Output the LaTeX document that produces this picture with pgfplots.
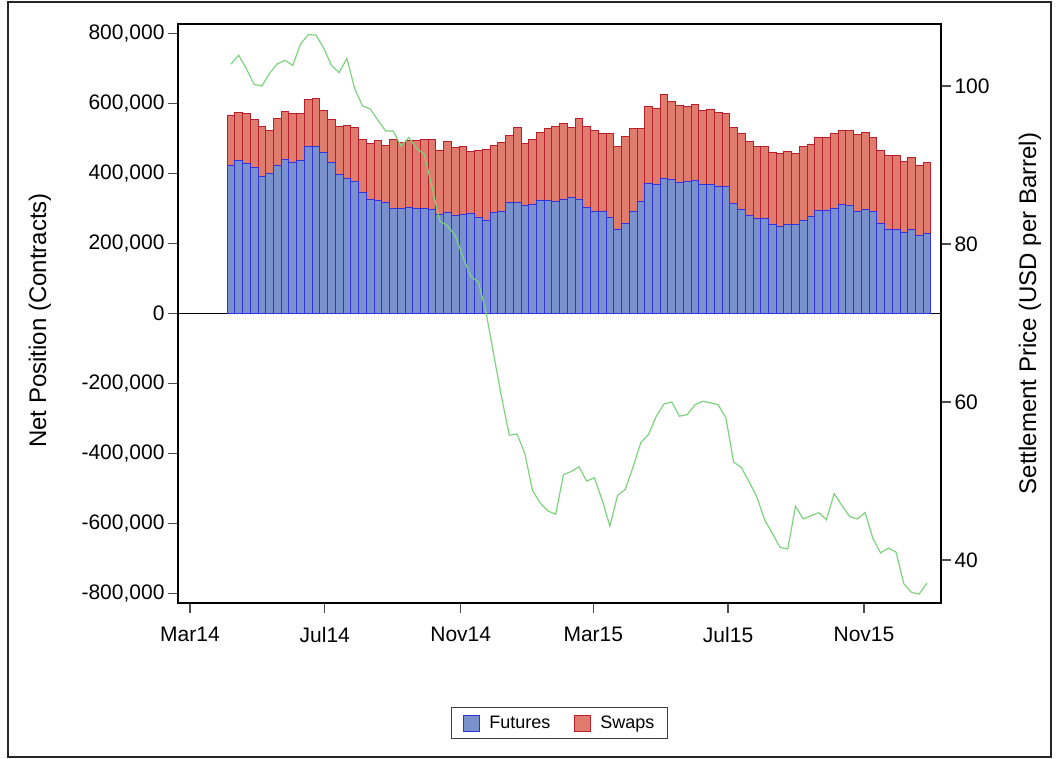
\documentclass[border=0pt]{standalone}
\usepackage{fontspec}
\setmainfont{Liberation Sans}
\usepackage{pgfplots}
\pgfplotsset{compat=1.18}
\usepackage{pgfplotstable}

\definecolor{futfill}{RGB}{121,146,206}
\definecolor{futedge}{RGB}{50,50,225}
\definecolor{swfill}{RGB}{224,124,110}
\definecolor{swedge}{RGB}{185,30,45}
\definecolor{pricegreen}{RGB}{125,212,125}

\pgfplotstableread{
x fut swap price
37 425000 143000 102.75
44 439000 137000 103.90
51 429000 143000 102.20
58 418000 138000 100.20
65 391000 144000 100.00
72 401000 123000 101.60
79 425000 133000 102.80
86 442000 136000 103.25
93 433000 139000 102.60
100 437000 136000 105.30
107 477000 136000 106.50
114 478000 138000 106.45
121 462000 118000 104.80
128 433000 123000 102.60
135 398000 137000 101.70
142 388000 150000 103.50
149 377000 154000 99.70
156 348000 151000 97.50
163 326000 161000 97.10
170 324000 172000 95.70
177 319000 163000 94.30
184 301000 198000 94.30
191 300000 190000 92.40
198 303000 191000 93.50
205 301000 193000 92.10
212 302000 196000 91.35
219 298000 200000 87.25
226 285000 183000 82.90
233 289000 204000 82.30
240 282000 193000 81.10
247 283000 196000 78.40
254 288000 175000 75.90
261 275000 191000 75.20
268 268000 202000 71.30
275 290000 191000 65.90
282 292000 198000 60.60
289 317000 193000 55.80
296 318000 213000 55.95
303 310000 176000 53.50
310 313000 186000 48.80
317 325000 194000 47.20
324 323000 206000 46.20
331 322000 213000 45.80
338 327000 217000 50.80
345 333000 199000 51.20
352 328000 230000 51.80
359 303000 232000 50.00
366 293000 230000 50.40
373 293000 223000 47.60
380 275000 241000 44.30
387 242000 235000 48.20
394 259000 247000 48.95
401 293000 237000 51.80
408 322000 208000 54.85
415 372000 219000 55.90
422 370000 218000 58.20
429 388000 238000 59.75
436 383000 224000 60.00
443 375000 220000 58.20
450 379000 214000 58.40
457 381000 217000 59.65
464 369000 211000 60.10
471 370000 215000 59.90
478 365000 209000 59.65
485 363000 208000 58.00
492 316000 217000 52.40
499 297000 217000 51.70
506 280000 212000 49.90
513 271000 208000 48.00
520 272000 206000 45.10
527 254000 208000 43.40
534 248000 211000 41.60
541 254000 209000 41.40
548 255000 204000 46.80
555 268000 209000 45.20
562 278000 207000 45.60
569 295000 210000 46.00
576 295000 210000 45.10
583 301000 213000 48.40
590 312000 211000 46.90
597 309000 214000 45.50
604 293000 218000 45.20
611 299000 218000 46.00
618 292000 212000 42.75
625 257000 211000 40.90
632 242000 210000 41.50
639 241000 212000 41.00
646 233000 201000 37.00
653 241000 205000 35.90
660 224000 201000 35.70
667 228000 204000 37.10
}\data

\begin{document}
\begin{tikzpicture}
\useasboundingbox (0pt,0pt) rectangle (1058pt,759pt);
\draw[black!85, line width=1.5pt] (8pt,2pt) rectangle (1051pt,757pt);
\begin{axis}[
  at={(178pt,156pt)}, anchor=south west,
  width=763pt, height=579pt, scale only axis,
  xmin=-10.86, xmax=679.7,
  ymin=-827000, ymax=828000,
  ybar stacked, bar width=7,
  axis line style={black, line width=1.2pt},
  tick align=outside, xtick pos=bottom, ytick pos=left,
  major tick length=10pt,
  major tick style={black!70, line width=1.2pt},
  xtick={0,122,245,365,487,610},
  xticklabels={Mar14,Jul14,Nov14,Mar15,Jul15,Nov15},
  xticklabel style={yshift=-11pt},
  ytick={-800000,-600000,-400000,-200000,0,200000,400000,600000,800000},
  scaled y ticks=false,
  yticklabel style={/pgf/number format/.cd, fixed, 1000 sep={,}, assume math mode=true},
  tick label style={font=\fontsize{21}{24}\selectfont},
  ylabel={Net Position (Contracts)},
  ylabel style={font=\fontsize{24}{28}\selectfont, at={(axis description cs:-0.181,0.488)}, anchor=center},
  legend style={at={(0.5,-0.2073)}, anchor=center, legend columns=2, draw=black!75, line width=1pt,
    font=\fontsize{18}{21}\selectfont, inner xsep=11pt, inner ysep=6pt,
    /tikz/every even column/.append style={column sep=21pt},
    /tikz/every odd column/.append style={column sep=8pt}},
]
\addplot[fill=futfill, draw=futedge, line width=0.8pt,
  legend image code/.code={\draw[fill=futfill, draw=futedge, line width=0.8pt] (0pt,-8pt) rectangle (16pt,8pt);}]
  table[x=x,y=fut]{\data};
\addlegendentry{Futures}
\addplot[fill=swfill, draw=swedge, line width=0.8pt,
  legend image code/.code={\draw[fill=swfill, draw=swedge, line width=0.8pt] (0pt,-8pt) rectangle (16pt,8pt);}]
  table[x=x,y=swap]{\data};
\addlegendentry{Swaps}
\draw[black, line width=1pt] ({rel axis cs:0,0}|-{axis cs:0,0}) -- ({rel axis cs:1,0}|-{axis cs:0,0});
\end{axis}
\begin{axis}[
  at={(178pt,156pt)}, anchor=south west,
  width=763pt, height=579pt, scale only axis,
  xmin=-10.86, xmax=679.7,
  ymin=34.56, ymax=107.85,
  axis x line=none, axis y line*=right,
  axis line style={black, line width=1.2pt},
  tick align=outside,
  major tick length=10pt,
  major tick style={black!70, line width=1.2pt},
  ytick={40,60,80,100},
  yticklabel style={/pgf/number format/assume math mode=true},
  tick label style={font=\fontsize{21}{24}\selectfont},
  ylabel={Settlement Price (USD per Barrel)},
  ylabel style={font=\fontsize{24}{28}\selectfont, at={(axis description cs:1.1166,0.5)}, anchor=center},
]
\addplot[pricegreen, line width=1.2pt, no marks] table[x=x,y=price]{\data};
\end{axis}
\end{tikzpicture}
\end{document}
